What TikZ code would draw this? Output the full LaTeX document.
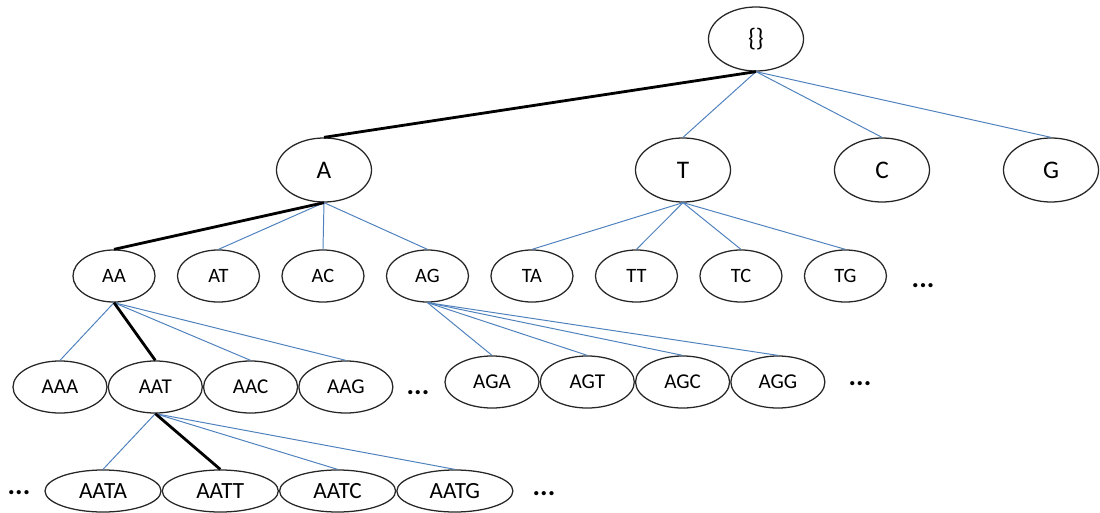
\documentclass[tikz,border=0pt]{standalone}
\usepackage{fontspec}
\setmainfont{Carlito}
\usepackage{tikz}
\usetikzlibrary{positioning,shapes.geometric}

\definecolor{linkblue}{HTML}{4F81BD}

\begin{document}
\begin{tikzpicture}[
  x=0.025cm, y=-0.025cm,
  oval/.style={ellipse,draw=black!85,line width=0.9pt,inner sep=0pt},
  top/.style={oval,minimum width=2.375cm,minimum height=1.6cm,font=\fontsize{18}{20}\selectfont},
  two/.style={oval,minimum width=2.05cm,minimum height=1.3cm,font=\fontsize{14.5}{16}\selectfont},
  three/.style={oval,minimum width=2.35cm,minimum height=1.3cm,font=\fontsize{15}{17}\selectfont},
  four/.style={oval,minimum width=2.9cm,minimum height=1.05cm,font=\fontsize{16.5}{18}\selectfont},
  more/.style={font=\bfseries\fontsize{20}{22}\selectfont},
  link/.style={linkblue,line width=0.7pt},
  path/.style={black,line width=2pt}
]
  \useasboundingbox (0,0) rectangle (1100,513);

  % root and first level
  \node[top] (root) at (756,39) {\{\}};
  \node[top] (a) at (324,170) {A};
  \node[top] (t) at (683,170) {T};
  \node[top] (c) at (882,170) {C};
  \node[top] (g) at (1051,170) {G};

  % second level
  \node[two] (aa) at (114,276) {AA};
  \node[two, right=0.53cm of aa] (at) {AT};
  \node[two, right=0.53cm of at] (ac) {AC};
  \node[two, right=0.53cm of ac] (ag) {AG};
  \node[two, right=0.53cm of ag] (ta) {TA};
  \node[two, right=0.53cm of ta] (tt) {TT};
  \node[two, right=0.53cm of tt] (tc) {TC};
  \node[two, right=0.53cm of tc] (tg) {TG};
  \node[more] (m2) at (923,286) {...};

  % third level
  \node[three] (aaa) at (60,387) {AAA};
  \node[three, right=0cm of aaa] (aat) {AAT};
  \node[three, right=0cm of aat] (aac) {AAC};
  \node[three, right=0cm of aac] (aag) {AAG};
  \node[more] (m3a) at (418,393) {...};
  \node[three] (aga) at (492,382) {AGA};
  \node[three, right=0cm of aga] (agt) {AGT};
  \node[three, right=0cm of agt] (agc) {AGC};
  \node[three, right=0cm of agc] (agg) {AGG};
  \node[more] (m3b) at (860,384) {...};

  % fourth level
  \node[more] (m4a) at (19,493) {...};
  \node[four] (aata) at (103,491) {AATA};
  \node[four, right=0cm of aata] (aatt) {AATT};
  \node[four, right=0cm of aatt] (aatc) {AATC};
  \node[four, right=0cm of aatc] (aatg) {AATG};
  \node[more] (m4b) at (544,494) {...};

  % edges
  \foreach \k in {t,c,g}
    \draw[link] (root.south) -- (\k.north);
  \foreach \k in {at,ac,ag}
    \draw[link] (a.south) -- (\k.north);
  \foreach \k in {ta,tt,tc,tg}
    \draw[link] (t.south) -- (\k.north);
  \foreach \k in {aaa,aac,aag}
    \draw[link] (aa.south) -- (\k.north);
  \foreach \k in {aga,agt,agc,agg}
    \draw[link] (ag.south) -- (\k.north);
  \foreach \k in {aata,aatc,aatg}
    \draw[link] (aat.south) -- (\k.north);

  % the thick path
  \draw[path] (root.south) -- (a.north);
  \draw[path] (a.south) -- (aa.north);
  \draw[path] (aa.south) -- (aat.north);
  \draw[path] (aat.south) -- (aatt.north);
\end{tikzpicture}
\end{document}
